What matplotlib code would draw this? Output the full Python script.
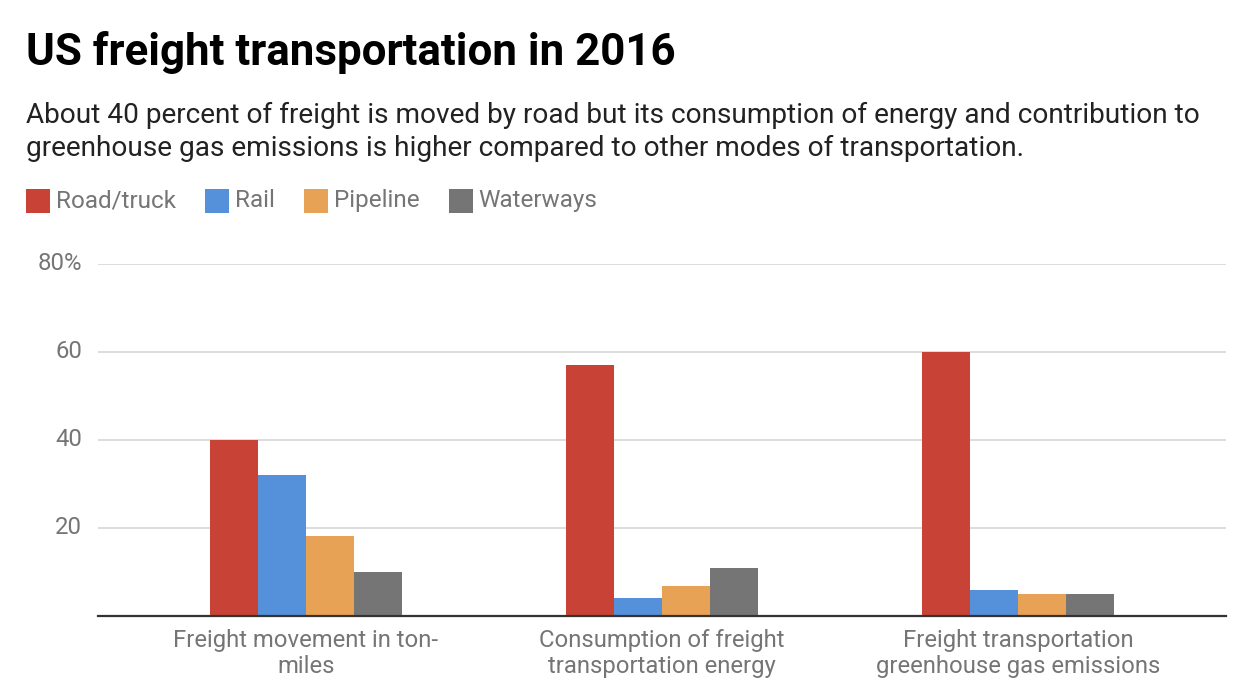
import matplotlib
matplotlib.use("Agg")
import matplotlib.pyplot as plt
from matplotlib.patches import Rectangle
import numpy as np

plt.rcParams['font.family'] = ['Roboto', 'DejaVu Sans']

categories = ["Freight movement in ton-\nmiles",
              "Consumption of freight\ntransportation energy",
              "Freight transportation\ngreenhouse gas emissions"]
series_names = ["Road/truck", "Rail", "Pipeline", "Waterways"]
road = [40, 57, 60]
rail = [32, 4.1, 6]
pipeline = [18.2, 6.8, 5]
waterways = [10, 11, 5]
series_values = [road, rail, pipeline, waterways]
colors = ["#c84335", "#5590da", "#e8a256", "#757575"]
yticks = [20, 40, 60, 80]
ytick_labels = ["20", "40", "60", "80%"]

W, H = 1256, 696
fig = plt.figure(figsize=(W / 100, H / 100), dpi=100)

ax = fig.add_axes([98 / W, (H - 616) / H, (1226 - 98) / W, (616 - 264) / H])
x = np.arange(len(categories))
bw = 48 / 356
n = len(series_names)
for i, (vals, c) in enumerate(zip(series_values, colors)):
    ax.bar(x + (i - (n - 1) / 2) * bw, vals, width=bw, color=c, zorder=3, linewidth=0)

ax.set_xlim(-208 / 356, 2 + 208 / 356)
ax.set_ylim(0, 80)
ax.set_yticks(yticks)
ax.set_yticklabels(ytick_labels)
ax.set_xticks(x)
ax.set_xticklabels(categories, linespacing=1.15)
ax.tick_params(axis='both', length=0, labelsize=17.2, labelcolor="#757575")
ax.tick_params(axis='y', pad=11.5)
ax.tick_params(axis='x', pad=9.5)
for t in ax.get_yticklabels():
    t.set_verticalalignment('center')
ax.grid(axis='y', color="#d9d9d9", linewidth=1.3, zorder=0)
for s in ['top', 'right', 'left']:
    ax.spines[s].set_visible(False)
ax.spines['bottom'].set_color("#333333")
ax.spines['bottom'].set_linewidth(1.6)
ax.spines['bottom'].set_zorder(4)

# Title and subtitle
fig.text(26 / W, 1 - 52 / H, "US freight transportation in 2016", fontsize=31.6,
         fontweight='bold', color="#000000", va='center', ha='left')
fig.text(26 / W, 1 - 132 / H,
         "About 40 percent of freight is moved by road but its consumption of energy and contribution to\n"
         "greenhouse gas emissions is higher compared to other modes of transportation.",
         fontsize=20.2, color="#222222", va='center', ha='left', linespacing=1.25)

# Legend
fig.canvas.draw()
renderer = fig.canvas.get_renderer()
xpos = 26
yc = 201
sq = 24
for name, c in zip(series_names, colors):
    fig.patches.append(Rectangle((xpos / W, 1 - (yc + sq / 2) / H), sq / W, sq / H,
                                 transform=fig.transFigure, facecolor=c, edgecolor='none'))
    t = fig.text((xpos + sq + 6) / W, 1 - yc / H, name, fontsize=17.5, color="#757575",
                 va='center', ha='left')
    bb = t.get_window_extent(renderer)
    xpos = bb.x1 + 29

fig.savefig("out.png", dpi=100)
